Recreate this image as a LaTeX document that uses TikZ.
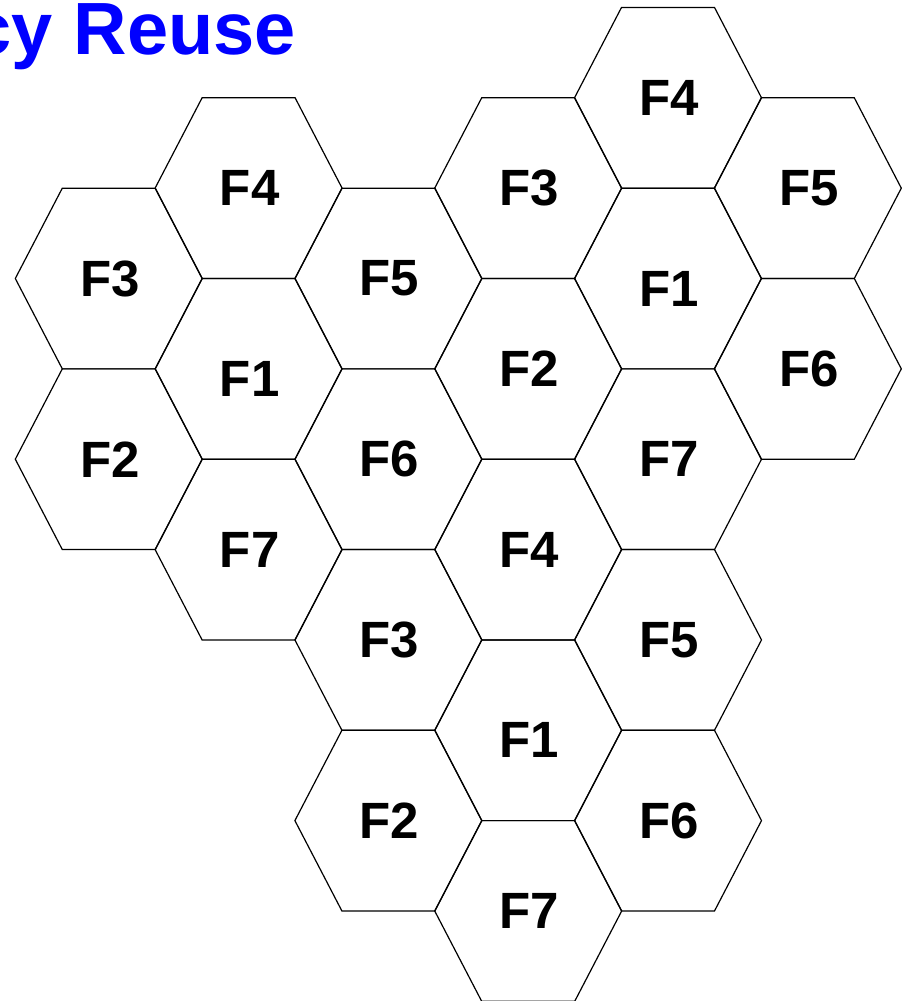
\documentclass[tikz,border=0pt]{standalone}
\usepackage{fontspec}
\setmainfont{Liberation Sans}
\definecolor{titleblue}{RGB}{0,0,255}
\begin{document}
\begin{tikzpicture}[x=1pt,y=-1pt,
  hexcell/.style={draw=black, line width=1.2pt},
  lbl/.style={font=\fontsize{51}{60}\selectfont\bfseries, inner sep=0pt, text=black},
  titletext/.style={font=\fontsize{74}{80}\selectfont\bfseries, text=titleblue, inner sep=0pt}]
\useasboundingbox (0,0) rectangle (902,1001);
\clip (0,0) rectangle (902,1001);
\node[titletext, anchor=base east] (title) at (296,54.3) {cy Reuse};
\foreach \x/\y/\t/\d/\n in {
  108.8/278.5/F3/0/a1, 108.8/459.2/F2/0/a2,
  248.6/188.15/F4/0/b1, 248.6/368.85/F1/10/b2, 248.6/549.55/F7/0/b3,
  388.4/278.5/F5/0/c1, 388.4/459.2/F6/0/c2, 388.4/639.9/F3/0/c3, 388.4/820.6/F2/0/c4,
  528.2/188.15/F3/0/d1, 528.2/368.85/F2/0/d2, 528.2/549.55/F4/0/d3, 528.2/730.25/F1/10/d4, 528.2/910.95/F7/0/d5,
  668.0/97.8/F4/0/e1, 668.0/278.5/F1/10/e2, 668.0/459.2/F7/0/e3, 668.0/639.9/F5/0/e4, 668.0/820.6/F6/0/e5,
  807.8/188.15/F5/0/f1, 807.8/368.85/F6/0/f2} {
  \draw[hexcell] (\x-93.5,\y) -- (\x-46.5,\y-90.35) -- (\x+46.5,\y-90.35) -- (\x+93.5,\y) -- (\x+46.5,\y+90.35) -- (\x-46.5,\y+90.35) -- cycle;
  \node[lbl] (\n) at (\x+1,\y+\d) {\t};
}
\end{tikzpicture}
\end{document}
